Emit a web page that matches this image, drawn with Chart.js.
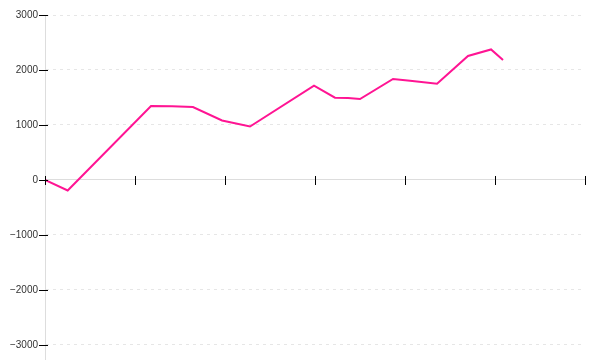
<!DOCTYPE html>
<html>
<head>
<meta charset="utf-8">
<script src="https://cdn.jsdelivr.net/npm/chart.js@4/dist/chart.umd.min.js"></script>
<style>
  html, body { margin: 0; padding: 0; background: #fff; }
  #wrap { width: 600px; height: 360px; }
</style>
</head>
<body>
<div id="wrap"><canvas id="c" width="600" height="360"></canvas></div>
<script>
// x positions (axis units, ticks every 1) and cumulative values
const xValues = [0, 0.252, 1.178, 1.411, 1.644, 1.967, 2.278, 2.989, 3.222, 3.367, 3.5, 3.867, 4.056, 4.356, 4.7, 4.956, 5.089];
const yValues = [0, -190, 1345, 1340, 1327, 1082, 973, 1715, 1496, 1490, 1473, 1836, 1805, 1751, 2255, 2373, 2182];
const xTicks = [0, 1, 2, 3, 4, 5, 6];
const yTicks = [-3000, -2000, -1000, 0, 1000, 2000, 3000];

const points = xValues.map((x, i) => ({ x: x, y: yValues[i] }));

const tickMarks = {
  id: 'tickMarks',
  afterDraw(chart) {
    const ctx = chart.ctx;
    const xs = chart.scales.x, ys = chart.scales.y;
    const y0 = ys.getPixelForValue(0);
    const x0 = xs.left;
    ctx.save();
    ctx.strokeStyle = '#000';
    ctx.lineWidth = 1;
    ctx.beginPath();
    xTicks.forEach(v => {
      const px = Math.round(xs.getPixelForValue(v)) + 0.5;
      ctx.moveTo(px, y0 - 4);
      ctx.lineTo(px, y0 + 5);
    });
    yTicks.forEach(v => {
      const py = Math.round(ys.getPixelForValue(v)) + 0.5;
      ctx.moveTo(x0 - 6, py);
      ctx.lineTo(x0 + 3, py);
    });
    ctx.stroke();
    ctx.restore();
  }
};

new Chart(document.getElementById('c'), {
  type: 'line',
  data: {
    datasets: [{
      data: points,
      borderColor: '#ff1493',
      borderWidth: 2,
      pointRadius: 0,
      tension: 0,
      fill: false
    }]
  },
  options: {
    responsive: false,
    animation: false,
    layout: { padding: { top: 15, right: 15, bottom: 0, left: 0 } },
    plugins: { legend: { display: false }, tooltip: { enabled: false } },
    scales: {
      x: {
        type: 'linear',
        position: { y: 0 },
        min: 0,
        max: 6,
        ticks: { display: false, stepSize: 1 },
        grid: { display: false, drawTicks: false },
        border: { display: true, color: '#dddddd', width: 1 }
      },
      y: {
        type: 'linear',
        min: -3273,
        max: 3000,
        afterFit(scale) {
          scale.width = 45;
          scale.paddingTop = 0;
          scale.paddingBottom = 0;
        },
        afterBuildTicks(scale) { scale.ticks = yTicks.map(v => ({ value: v })); },
        ticks: {
          includeBounds: false,
          padding: 7,
          color: '#333',
          font: { family: 'Liberation Sans', size: 10 },
          callback: v => (v < 0 ? '\u2212' + Math.abs(v) : String(v))
        },
        grid: {
          drawTicks: false,
          color: '#e6e6e6',
          lineWidth: 1
        },
        border: { display: true, color: '#dddddd', width: 1, dash: [3, 4] }
      }
    }
  },
  plugins: [tickMarks]
});
</script>
</body>
</html>
